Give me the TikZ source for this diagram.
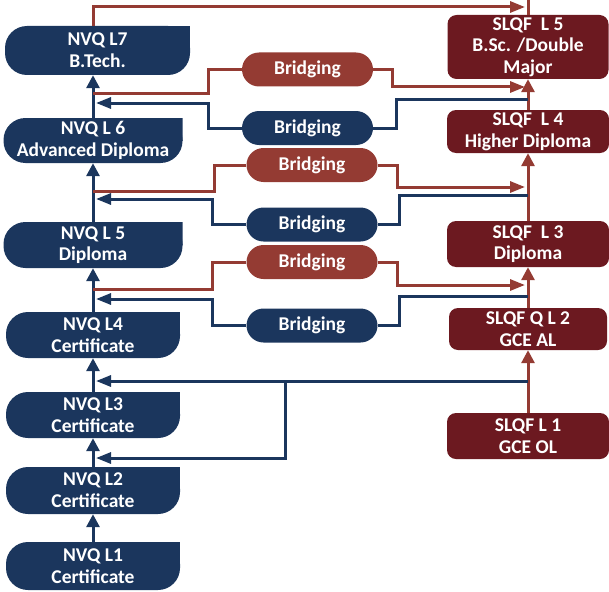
\documentclass[tikz,border=0pt]{standalone}
\usepackage{fontspec}
\setmainfont{Carlito}
\usepackage{xcolor}
\usetikzlibrary{arrows.meta,shapes.misc}
\definecolor{nvqblue}{HTML}{1B365D}
\definecolor{slqfred}{HTML}{6C1920}
\definecolor{bridgered}{HTML}{943B33}

\begin{document}
\begin{tikzpicture}[x=1pt, y=-1pt,
  every node/.style={font=\fontsize{19.5}{21.7}\selectfont\bfseries, text=white, align=center, inner sep=0pt},
  nvq/.style={minimum width=174pt, minimum height=46pt,
    path picture={
      \fill[nvqblue, rounded corners=22pt] (path picture bounding box.south west) rectangle (path picture bounding box.north east);
      \fill[nvqblue] (path picture bounding box.north east) rectangle ++(-26,23);}},
  slqf/.style={fill=slqfred, rounded corners=9pt, minimum width=162pt, minimum height=46pt},
  bridge/.style={rounded rectangle, minimum width=131pt, minimum height=34pt},
  blueline/.style={draw=nvqblue, line width=3pt},
  redline/.style={draw=bridgered, line width=3pt},
  uparr/.style={-{Triangle[length=13pt,width=13pt]}},
  sidearr/.style={-{Triangle[length=15pt,width=11pt]}, shorten >=3pt}]
\useasboundingbox (0,0) rectangle (609,591);

% NVQ ladder
\node[nvq, minimum width=185pt, minimum height=49pt] (nvq7) at (97.5,50.5) {NVQ L7\\B.Tech.};
\node[nvq, minimum width=179pt, minimum height=45pt] (nvq6) at (93,140.5) {NVQ L 6\\Advanced Diploma};
\node[nvq, minimum width=179pt] (nvq5) at (93,245) {NVQ L 5\\Diploma};
\node[nvq] (nvq4) at (93,335) {NVQ L4\\Certificate};
\node[nvq] (nvq3) at (93,415) {NVQ L3\\Certificate};
\node[nvq, minimum height=47pt] (nvq2) at (93,490.5) {NVQ L2\\Certificate};
\node[nvq, minimum height=48pt] (nvq1) at (93,566) {NVQ L1\\Certificate};

% SLQF ladder
\node[slqf, minimum width=161pt, minimum height=64pt] (slqf5) at (528,47) {SLQF\ \ L 5\\B.Sc. /Double\\Major};
\node[slqf, minimum height=43pt] (slqf4) at (528,131.5) {SLQF\ \ L 4\\Higher Diploma};
\node[slqf] (slqf3) at (528,244) {SLQF\ \ L 3\\Diploma};
\node[slqf, minimum width=158pt, minimum height=42pt] (slqf2) at (528,329) {SLQF Q L 2\\GCE AL};
\node[slqf] (slqf1) at (528,436) {SLQF L 1\\GCE OL};

% Bridging
\node[bridge, fill=bridgered] (br1) at (307.5,69.5) {Bridging};
\node[bridge, fill=nvqblue] (br2) at (307.5,128) {Bridging};
\node[bridge, fill=bridgered] (br3) at (312,165) {Bridging};
\node[bridge, fill=nvqblue] (br4) at (312,224.5) {Bridging};
\node[bridge, fill=bridgered] (br5) at (312,262) {Bridging};
\node[bridge, fill=nvqblue] (br6) at (312,325.5) {Bridging};

% joints on the two ladders
\coordinate (top) at (528,0);
\coordinate (j7) at (528,7);
\coordinate (r1) at (93,94);   \coordinate (j1) at (528,87);
\coordinate (b2) at (528,99);  \coordinate (b2t) at (93,103);
\coordinate (r3) at (93,191);  \coordinate (j3) at (528,187);
\coordinate (b4) at (528,195); \coordinate (b4t) at (93,199);
\coordinate (r5) at (93,289);  \coordinate (j5) at (528,285);
\coordinate (b6) at (528,296); \coordinate (b6t) at (93,299);
\coordinate (g1) at (528,381); \coordinate (g1t) at (93,381);
\coordinate (g2) at (285,381); \coordinate (g2t) at (93,458);

\foreach \a/\b in {1/2,2/3,3/4,4/5,5/6,6/7}
  \draw[blueline,uparr] (nvq\a) -- (nvq\a |- nvq\b.south);
\foreach \a/\b in {1/2,2/3,3/4,4/5}
  \draw[redline,uparr] (slqf\a) -- (slqf\b);
\draw[redline] (slqf5) -- (top);
\draw[redline,sidearr] (nvq7.north -| nvq6) |- (j7);

\draw[redline] (br1.west) -- ++(-33,0) |- (r1);
\draw[redline,sidearr] (br1.east) -- ++(19,0) |- (j1);
\draw[blueline] (br2.east) -- ++(23,0) |- (b2);
\draw[blueline,sidearr] (br2.west) -- ++(-33,0) |- (b2t);
\draw[redline] (br3.west) -- ++(-32,0) |- (r3);
\draw[redline,sidearr] (br3.east) -- ++(20,0) |- (j3);
\draw[blueline] (br4.east) -- ++(22,0) |- (b4);
\draw[blueline,sidearr] (br4.west) -- ++(-34,0) |- (b4t);
\draw[redline] (br5.west) -- ++(-34,0) |- (r5);
\draw[redline,sidearr] (br5.east) -- ++(20,0) |- (j5);
\draw[blueline] (br6.east) -- ++(22,0) |- (b6);
\draw[blueline,sidearr] (br6.west) -- ++(-34,0) |- (b6t);

\draw[blueline,sidearr] (g1) -- (g1t);
\draw[blueline,sidearr] (g2) |- (g2t);
\end{tikzpicture}
\end{document}
